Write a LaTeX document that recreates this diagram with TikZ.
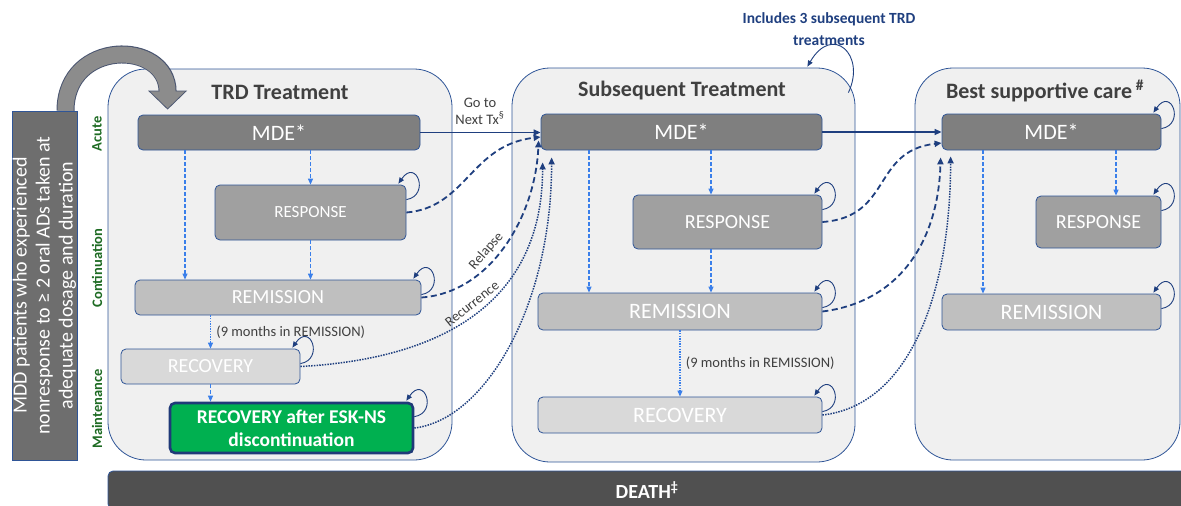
\documentclass[tikz,border=0pt]{standalone}
\usepackage{fontspec}
\setmainfont{Carlito}
\usepackage{xcolor}
\usepackage{tikz}
\usetikzlibrary{arrows.meta}
\usetikzlibrary{calc}

\definecolor{boxline}{HTML}{2F5597}
\definecolor{armfill}{HTML}{F0F0F0}
\definecolor{mdegray}{HTML}{7F7F7F}
\definecolor{respgray}{HTML}{A0A0A0}
\definecolor{remgray}{HTML}{BFBFBF}
\definecolor{recgray}{HTML}{D9D9D9}
\definecolor{eskgreen}{HTML}{00B050}
\definecolor{eskline}{HTML}{1F3A78}
\definecolor{navy}{HTML}{1F3F7F}
\definecolor{lightblue}{HTML}{3A7FEA}
\definecolor{titlegray}{HTML}{404040}
\definecolor{phasegreen}{HTML}{1E6B23}
\definecolor{deathgray}{HTML}{505050}
\definecolor{bigarrowgray}{HTML}{8C8C8C}
\definecolor{bigarrowline}{HTML}{4A5570}
\definecolor{mddgray}{HTML}{6E6E6E}

\begin{document}
\begin{tikzpicture}[x=1pt,y=-1pt]
	\tikzstyle{armbox}=[draw=boxline, fill=armfill, rounded corners=38pt, line width=0.8pt, inner sep=0pt]
	\tikzstyle{stbox}=[draw=boxline, rounded corners=5pt, line width=0.8pt, inner sep=0pt, text=white, align=center]
	\tikzstyle{mdebox}=[stbox, fill=mdegray, minimum height=36pt, font=\fontsize{22}{24}\selectfont]
	\tikzstyle{respbox}=[stbox, fill=respgray, font=\fontsize{20}{22}\selectfont]
	\tikzstyle{rembox}=[stbox, fill=remgray, font=\fontsize{22}{24}\selectfont]
	\tikzstyle{recbox}=[stbox, fill=recgray, font=\fontsize{22}{24}\selectfont]
	\tikzstyle{armtitle}=[text=titlegray, font=\bfseries\fontsize{22}{24}\selectfont]
	\tikzstyle{phaselabel}=[rotate=90, text=phasegreen, font=\bfseries\fontsize{14.5}{16}\selectfont]
	\tikzstyle{notetext}=[text=titlegray, font=\fontsize{14.5}{18}\selectfont, align=center]
	\tikzstyle{vdash}=[lightblue, line width=1.1pt, dash pattern=on 4pt off 2pt, -{Triangle[length=6pt,width=5pt]}]
	\tikzstyle{vdot}=[vdash, dash pattern=on 1.3pt off 1.3pt]
	\tikzstyle{selfloop}=[navy, line width=0.9pt, -{Triangle[length=6pt,width=5pt]}]
	\tikzstyle{nextarrow}=[navy, line width=1.4pt, -{Triangle[length=7pt,width=6pt]}]
	\tikzstyle{relapsearrow}=[nextarrow, line width=1.8pt, dash pattern=on 6pt off 3.5pt]
	\tikzstyle{recurarrow}=[nextarrow, line width=1.5pt, dash pattern=on 1.5pt off 1.2pt]

	\useasboundingbox (0,0) rectangle (1181,506);

	% arms
	\node[armbox, minimum width=344pt, minimum height=391pt] (trdBox) at (280,264.5) {};
	\node[armbox, minimum width=343pt, minimum height=394pt] (subBox) at (683.5,265) {};
	\node[armbox, minimum width=265pt, minimum height=392pt] (bscBox) at (1047.5,264) {};
	\node[armtitle] (trdTitle) at (280,92) {TRD Treatment};
	\node[armtitle] (subTitle) at (682,91) {Subsequent Treatment};
	\node[armtitle] (bscTitle) at (1045,91) {Best supportive care\,\textsuperscript{\#}};

	% death
	\node[stbox, fill=deathgray, minimum width=1078pt, minimum height=38pt,
		font=\bfseries\fontsize{20}{22}\selectfont] (death) at (647,490) {DEATH\textsuperscript{‡}};

	% entry population
	\node[draw=boxline, fill=mddgray, minimum width=65pt, minimum height=349pt, inner sep=0pt] (mdd) at (44.5,285.5) {};
	\node[rotate=90, text=white, align=center, font=\fontsize{20}{23}\selectfont] (mddText) at (mdd)
		{MDD patients who experienced\\nonresponse to ≥ 2 oral ADs taken at\\adequate dosage and duration};

	% phases
	\node[phaselabel] (acute) at (97,134) {Acute};
	\node[phaselabel] (cont) at (97,268) {Continuation};
	\node[phaselabel] (maint) at (97,409) {Maintenance};

	% TRD arm
	\node[mdebox, minimum width=282pt, minimum height=35pt] (trdMDE) at (279,132.5) {MDE*};
	\node[respbox, minimum width=191pt, minimum height=55pt, font=\fontsize{17}{19}\selectfont] (trdResp) at (310.5,212.5) {RESPONSE};
	\node[rembox, minimum width=286pt, minimum height=35pt, font=\fontsize{20}{22}\selectfont] (trdRem) at (278,297.5) {REMISSION};
	\node[recbox, minimum width=179pt, minimum height=35pt, font=\fontsize{20}{22}\selectfont] (trdRec) at (210.5,366.5) {RECOVERY};
	\node[stbox, fill=eskgreen, draw=eskline, line width=2.6pt, minimum width=243pt, minimum height=50pt,
		font=\bfseries\fontsize{19.5}{23}\selectfont] (trdEsk) at (291.5,428) {RECOVERY after ESK-NS\\discontinuation};

	% subsequent arm
	\node[mdebox, minimum width=281pt] (subMDE) at (681.5,132) {MDE*};
	\node[respbox, minimum width=189pt, minimum height=54pt] (subResp) at (727.5,222) {RESPONSE};
	\node[rembox, minimum width=284pt, minimum height=37pt] (subRem) at (680,311.5) {REMISSION};
	\node[recbox, minimum width=284pt, minimum height=36pt] (subRec) at (680,415) {RECOVERY};

	% best supportive care arm
	\node[mdebox, minimum width=219pt] (bscMDE) at (1051.5,132) {MDE*};
	\node[respbox, minimum width=125pt, minimum height=52pt] (bscResp) at (1098.5,222) {RESPONSE};
	\node[rembox, minimum width=219pt, minimum height=36pt] (bscRem) at (1051.5,312) {REMISSION};

	% big entry arrow
	\draw[line width=18pt, bigarrowline, -{Triangle[length=19pt,width=38pt]}]
		([xshift=21pt]mdd.north) .. controls +(0,-72) and +(0,-70) .. ([xshift=30pt,yshift=5pt]trdMDE.north west);
	\draw[line width=16pt, bigarrowgray, -{Triangle[length=17pt,width=34pt]}, shorten >=1.3pt]
		([xshift=21pt]mdd.north) .. controls +(0,-72) and +(0,-70) .. ([xshift=30pt,yshift=5pt]trdMDE.north west);

	% within arms
	\draw[vdash] ([xshift=-94pt]trdMDE.south) -- ([xshift=-93pt]trdRem.north);
	\draw[vdash] (trdResp.north |- trdMDE.south) -- (trdResp.north);
	\draw[vdash] (trdResp.south) -- (trdResp.south |- trdRem.north);
	\draw[vdot] (trdRec.north |- trdRem.south) -- (trdRec.north)
		node[notetext, midway, right, xshift=2pt] {(9 months in REMISSION)};
	\draw[vdash] (trdRec.south) -- (trdRec.south |- trdEsk.north);

	\draw[vdash] ([xshift=-92.5pt]subMDE.south) -- ([xshift=-91pt]subRem.north);
	\draw[vdash] ([xshift=-16.5pt]subResp.north |- subMDE.south) -- ([xshift=-16.5pt]subResp.north);
	\draw[vdash] ([xshift=-16.5pt]subResp.south) -- ([xshift=-16.5pt]subResp.south |- subRem.north);
	\draw[vdot] (subRem.south) -- (subRec.north)
		node[notetext, midway, right, xshift=2pt] {(9 months in REMISSION)};

	\draw[vdash] ([xshift=-68.5pt]bscMDE.south) -- ([xshift=-68.5pt]bscRem.north);
	\draw[vdash] ([xshift=17.5pt]bscResp.north |- bscMDE.south) -- ([xshift=17.5pt]bscResp.north);

	% self loops
	\foreach \s in {trdResp,trdRem,trdRec,trdEsk,subResp,subRem,subRec,bscMDE,bscResp,bscRem}{
		\draw[selfloop] ([yshift=-15pt]\s.north east) .. controls +(24,-4) and +(18,-26) .. ([xshift=-8pt,yshift=1pt]\s.north east);
	}
	\draw[selfloop] ([xshift=-7pt,yshift=-25pt]subBox.north east) .. controls +(18,-38) and +(25,-43) .. ([xshift=-48pt,yshift=1pt]subBox.north east);
	\node[text=navy, align=center, font=\bfseries\fontsize{15.5}{22}\selectfont] (incl) at (829,29) {Includes 3 subsequent TRD\\treatments};

	% between arms
	\draw[nextarrow] (trdMDE.east) -- (subMDE.west |- trdMDE.east);
	\node[notetext, font=\fontsize{14.5}{17}\selectfont] (gotoTx) at (480,111) {Go to\\Next Tx\textsuperscript{§}};
	\draw[nextarrow] (subMDE.east) -- (bscMDE.west);

	\draw[relapsearrow] (trdResp.east) .. controls +(60,-5) and +(-70,8) .. ([yshift=-5pt]subMDE.west);
	\draw[relapsearrow] (trdRem.east) .. controls +(70,-5) and +(-3,75) .. ([xshift=-2pt,yshift=10pt]subMDE.south west)
		node[pos=0.42, sloped, above=1pt, text=titlegray, font=\fontsize{14}{16}\selectfont] {Relapse};
	\draw[recurarrow] (trdRec.east) .. controls +(130,-7) and +(0,148) .. ([xshift=2pt,yshift=-12pt]subMDE.south west)
		node[pos=0.53, sloped, above=1pt, text=titlegray, font=\fontsize{14}{16}\selectfont] {Recurrence};
	\draw[recurarrow] (trdEsk.east) .. controls +(70,-8) and +(0,150) .. ([xshift=11pt,yshift=-7pt]subMDE.south west);

	\draw[relapsearrow] (subResp.east) .. controls +(70,-5) and +(-70,8) .. ([yshift=-11pt]bscMDE.west);
	\draw[relapsearrow] (subRem.east) .. controls +(80,-10) and +(-2,80) .. ([xshift=-1pt,yshift=-7pt]bscMDE.south west);
	\draw[recurarrow] (subRec.east) .. controls +(90,-10) and +(0,130) .. ([xshift=9pt,yshift=-6pt]bscMDE.south west);
\end{tikzpicture}
\end{document}
